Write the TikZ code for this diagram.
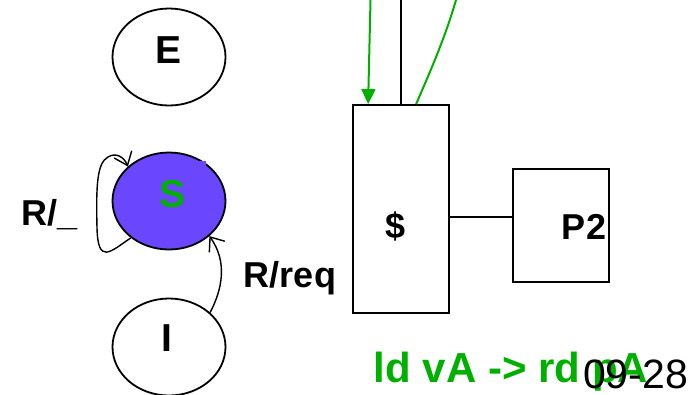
\documentclass[tikz,border=0pt]{standalone}
\usepackage{fontspec}
\setmainfont{Liberation Sans}
\usetikzlibrary{arrows.meta,calc,shapes.geometric}
\definecolor{stpurple}{RGB}{106,70,255}
\definecolor{stgreen}{RGB}{0,176,0}
\tikzset{
  stateell/.style={draw=black,line width=1.8pt,ellipse,minimum width=113pt,minimum height=97pt,inner sep=0pt},
  box/.style={draw=black,line width=1.8pt,rectangle,inner sep=0pt},
  lbl/.style={anchor=base,inner sep=0pt,font=\bfseries\fontsize{36}{40}\selectfont},
  statelbl/.style={anchor=base,inner sep=0pt,font=\bfseries\fontsize{39}{42}\selectfont},
  trans/.style={draw=black,line width=1.4pt,-{Straight Barb[length=12pt,width=19pt,line width=1.4pt]}},
  gline/.style={draw=stgreen,line width=2pt},
}
\begin{document}
\begin{tikzpicture}[x=1pt,y=-1pt]
\useasboundingbox (0,0) rectangle (700,394);
% states
\node[stateell] (E) at (169,57) {};
\node[stateell,fill=stpurple] (S) at (169,201) {};
\fill[stpurple] (199,161) rectangle (206,166);
\node[stateell] (I) at (169,347) {};
\node[statelbl] (Et) at (169,63) {E};
\node[statelbl,text=stgreen] (St) at (173,207) {S};
\node[statelbl] (It) at (167,351) {I};
% transitions
\draw[trans] (S.224) .. controls (110,252) and (98,265) .. (97,228)
   .. controls (96,185) and (97,163) .. (108,157)
   .. controls (116,152) and (124,157) .. (S.140);
\draw[trans] (I.40) .. controls (222,290) and (228,262) .. (S.-41);
\node[lbl] (Rl) at (50,225) {R/\_};
\node[lbl] (Rr) at (290,287) {R/req};
% cache and P2
\node[box,minimum width=96pt,minimum height=208pt] (cache) at (401,209) {};
\node[box,minimum width=96pt,minimum height=113pt] (P2) at (561,225.5) {};
\node[lbl] (ct) at (396,238) {\$};
\node[lbl] (pt) at (584,239) {P2};
\path (cache.east) ++(0,8) coordinate (lk);
\draw[line width=1.8pt] (lk) -- (lk -| P2.west);
% bus lines
\coordinate (g1) at (370.5,0);
\coordinate (b1) at (401,0);
\coordinate (g2) at (456,0);
\draw[gline,-{Triangle[length=15pt,width=14pt]}] (g1) -- ($(cache.north west)+(16,0)$);
\draw[line width=1.8pt] (b1) -- (b1 |- cache.north);
\draw[gline] (g2) .. controls (445,38) and (430,72) .. ($(cache.north west)+(64,0)$);
% footer texts
\node[anchor=base,inner sep=0pt,text=stgreen,font=\bfseries\fontsize{42}{46}\selectfont] (ld) at (511,382) {ld vA -> rd pA};
\node[anchor=base,inner sep=0pt,font=\fontsize{41}{44}\selectfont] (num) at (635.5,388.5) {09-28};
\end{tikzpicture}
\end{document}
